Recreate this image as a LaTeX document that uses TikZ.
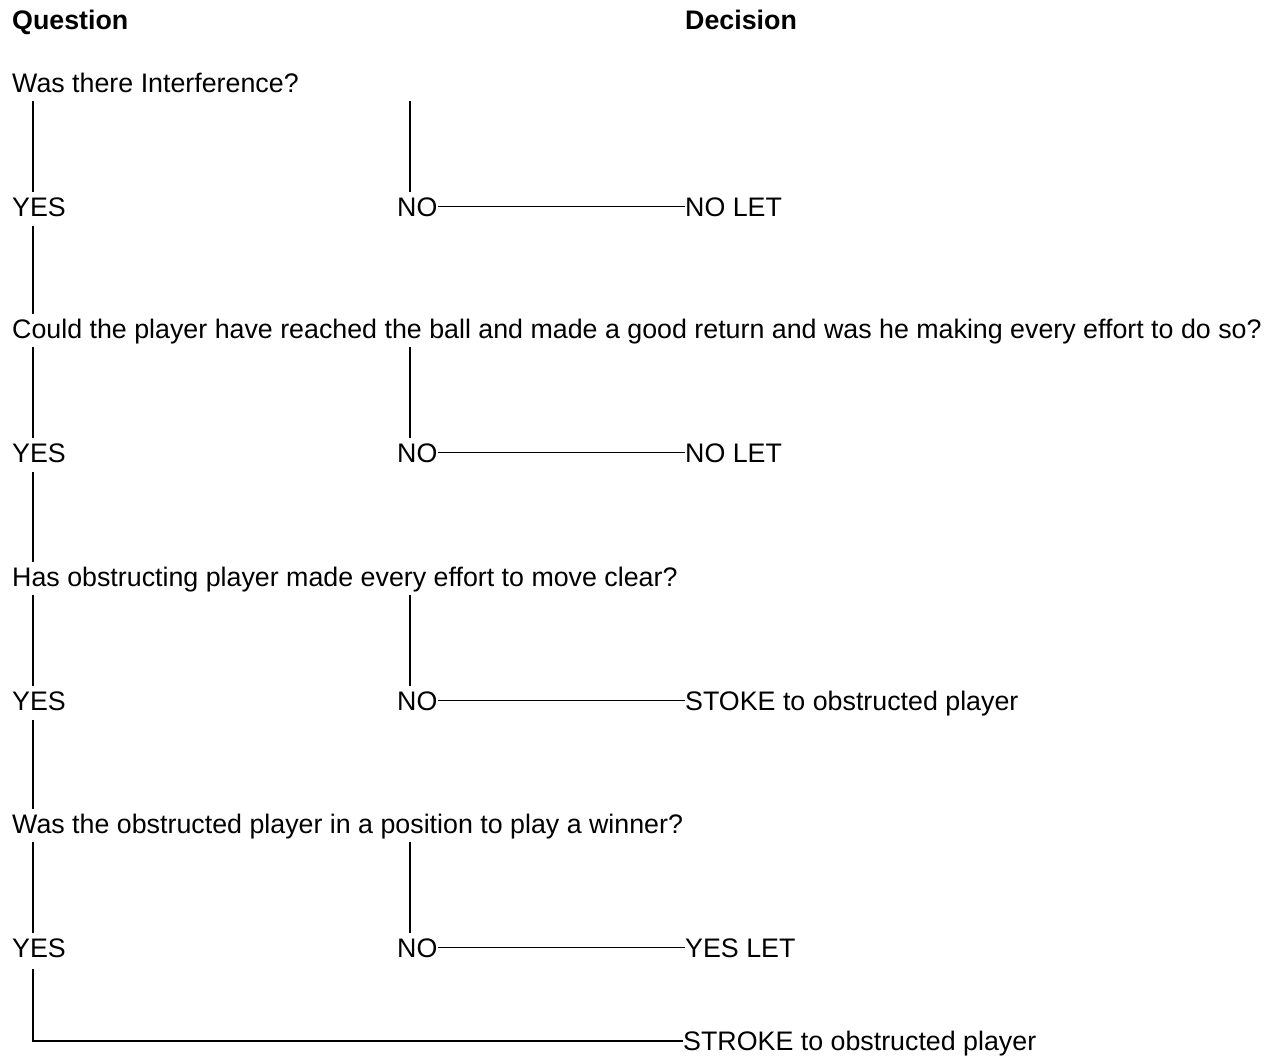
\documentclass[tikz,border=0pt]{standalone}
\usepackage{fontspec}
\setmainfont{Liberation Sans}
\begin{document}
\begin{tikzpicture}[x=1pt, y=-1pt,
  txt/.style={anchor=base west, inner sep=0pt, text height=19pt, text depth=6pt,
    font=\fontsize{26.8}{30}\selectfont},
  hd/.style={txt, font=\fontsize{26.8}{30}\selectfont\bfseries},
  link/.style={line width=1.3pt, shorten <=3pt, shorten >=5pt},
  flat/.style={line width=1.3pt}]
\useasboundingbox (0, 0) rectangle (1266, 1055);

\node[hd] (qhead) at (12, 29) {Question};
\node[hd] (dhead) at (685, 29) {Decision};

\node[txt] (q1) at (12, 92) {Was there Interference?};
\node[txt] (yes1) at (12, 216.5) {YES};
\node[txt] (no1) at (397, 216.5) {NO};
\node[txt] (d1) at (685, 216.5) {NO LET};

\node[txt] (q2) at (12, 338) {Could the player have reached the ball and made a good return and was he making every effort to do so?};
\node[txt] (yes2) at (12, 462.5) {YES};
\node[txt] (no2) at (397, 462.5) {NO};
\node[txt] (d2) at (685, 462.5) {NO LET};

\node[txt] (q3) at (12, 586) {Has obstructing player made every effort to move clear?};
\node[txt] (yes3) at (12, 710.5) {YES};
\node[txt] (no3) at (397, 710.5) {NO};
\node[txt] (d3) at (685, 710.5) {STOKE to obstructed player};

\node[txt] (q4) at (12, 833) {Was the obstructed player in a position to play a winner?};
\node[txt] (yes4) at (12, 957.5) {YES};
\node[txt] (no4) at (397, 957.5) {NO};
\node[txt] (d4) at (685, 957.5) {YES LET};

\node[txt] (d5) at (683, 1050) {STROKE to obstructed player};

% yes column
\draw[link] ([xshift=21pt]q1.south west) -- ([xshift=21pt]yes1.north west);
\draw[link] ([xshift=21pt]yes1.south west) -- ([xshift=21pt]q2.north west);
\draw[link] ([xshift=21pt]q2.south west) -- ([xshift=21pt]yes2.north west);
\draw[link] ([xshift=21pt]yes2.south west) -- ([xshift=21pt]q3.north west);
\draw[link] ([xshift=21pt]q3.south west) -- ([xshift=21pt]yes3.north west);
\draw[link] ([xshift=21pt]yes3.south west) -- ([xshift=21pt]q4.north west);
\draw[link] ([xshift=21pt]q4.south west) -- ([xshift=21pt]yes4.north west);

% no column
\draw[link] ([xshift=13pt]no1.north west |- q1.south) -- ([xshift=13pt]no1.north west);
\draw[link] ([xshift=13pt]no2.north west |- q2.south) -- ([xshift=13pt]no2.north west);
\draw[link] ([xshift=13pt]no3.north west |- q3.south) -- ([xshift=13pt]no3.north west);
\draw[link] ([xshift=13pt]no4.north west |- q4.south) -- ([xshift=13pt]no4.north west);

% no to decision
\draw[flat] ([yshift=10pt]no1.base east) -- ([yshift=10pt]d1.base west);
\draw[flat] ([yshift=10pt]no2.base east) -- ([yshift=10pt]d2.base west);
\draw[flat] ([yshift=10pt]no3.base east) -- ([yshift=10pt]d3.base west);
\draw[flat] ([yshift=10pt]no4.base east) -- ([yshift=10pt]d4.base west);

\draw[flat] ([xshift=21pt, yshift=-5pt]yes4.south west) |- ([yshift=9pt]d5.base west);

\end{tikzpicture}
\end{document}
